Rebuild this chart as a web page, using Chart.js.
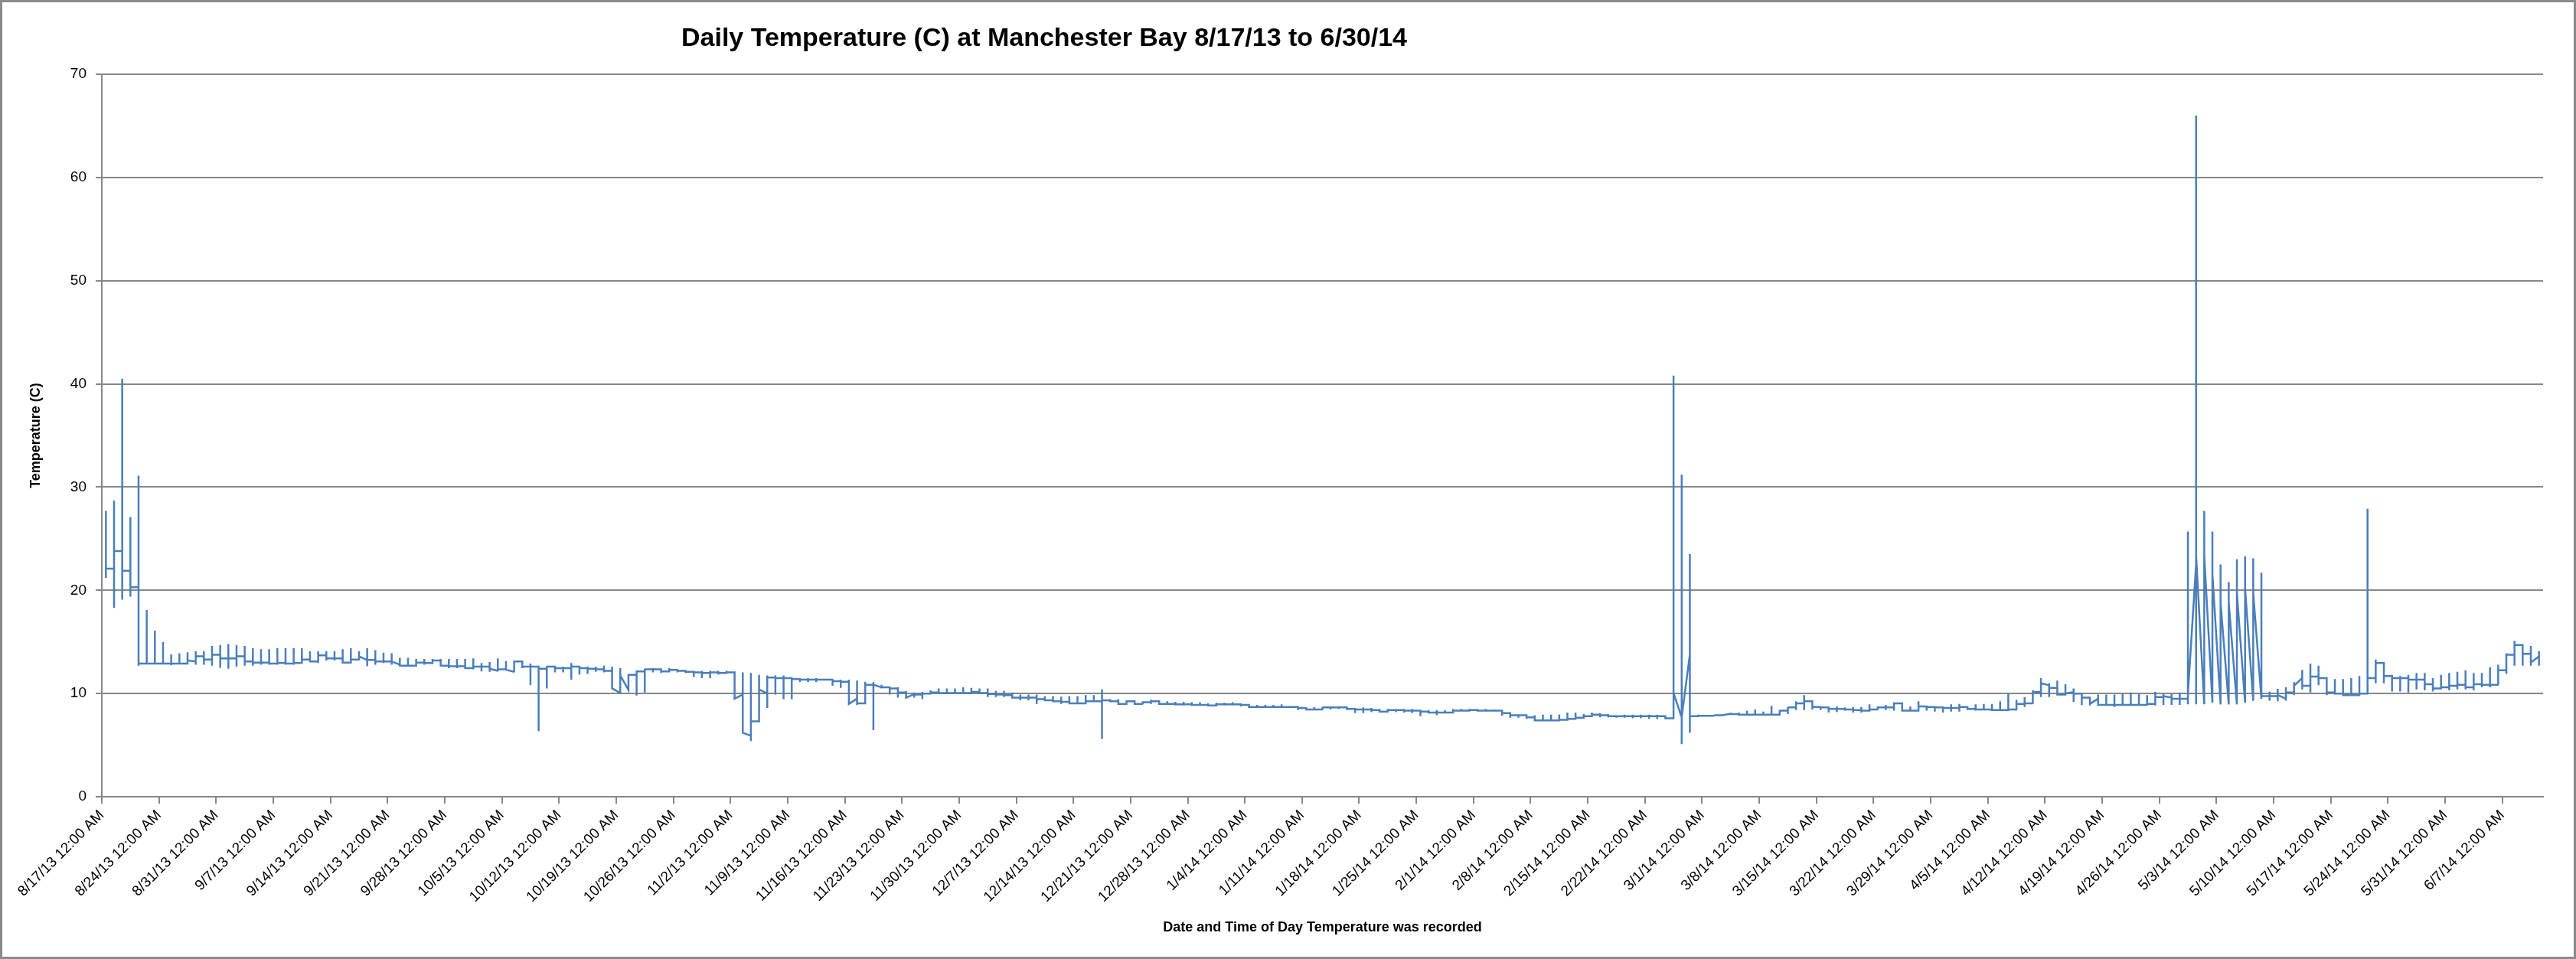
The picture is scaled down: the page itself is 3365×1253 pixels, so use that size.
<!DOCTYPE html>
<html><head><meta charset="utf-8">
<script src="https://cdn.jsdelivr.net/npm/chart.js@4.4.0/dist/chart.umd.min.js"></script>
<style>html,body{margin:0;padding:0;background:#fff;}#wrap{width:3365px;height:1253px;}</style>
</head><body><div id="wrap"><canvas id="c" width="3365" height="1253"></canvas></div>
<script>
const chartTitle = 'Daily Temperature (C) at Manchester Bay 8/17/13 to 6/30/14';
const yAxisTitle = 'Temperature (C)';
const xAxisTitle = 'Date and Time of Day Temperature was recorded';
const weekLabels = ['8/17/13 12:00 AM','8/24/13 12:00 AM','8/31/13 12:00 AM','9/7/13 12:00 AM','9/14/13 12:00 AM','9/21/13 12:00 AM','9/28/13 12:00 AM','10/5/13 12:00 AM','10/12/13 12:00 AM','10/19/13 12:00 AM','10/26/13 12:00 AM','11/2/13 12:00 AM','11/9/13 12:00 AM','11/16/13 12:00 AM','11/23/13 12:00 AM','11/30/13 12:00 AM','12/7/13 12:00 AM','12/14/13 12:00 AM','12/21/13 12:00 AM','12/28/13 12:00 AM','1/4/14 12:00 AM','1/11/14 12:00 AM','1/18/14 12:00 AM','1/25/14 12:00 AM','2/1/14 12:00 AM','2/8/14 12:00 AM','2/15/14 12:00 AM','2/22/14 12:00 AM','3/1/14 12:00 AM','3/8/14 12:00 AM','3/15/14 12:00 AM','3/22/14 12:00 AM','3/29/14 12:00 AM','4/5/14 12:00 AM','4/12/14 12:00 AM','4/19/14 12:00 AM','4/26/14 12:00 AM','5/3/14 12:00 AM','5/10/14 12:00 AM','5/17/14 12:00 AM','5/24/14 12:00 AM','5/31/14 12:00 AM','6/7/14 12:00 AM'];
const daysPerLabel = 7;
const totalDays = 299;
const yMin = 0, yMax = 70, yStep = 10;

// Per day (from 8/17/13): highest, lowest and last reading of the day
const dayHigh = [
27.7,28.7,40.5,27.1,31.1,18.1,16.1,15.0,13.8,13.9,
14.0,14.1,14.1,14.6,14.7,14.8,14.7,14.6,14.4,14.3,
14.3,14.4,14.4,14.4,14.4,14.1,14.1,14.1,14.1,14.3,
14.4,14.1,14.4,14.2,13.95,13.9,13.45,13.45,13.35,13.35,
13.35,13.35,13.35,13.35,13.35,13.4,12.95,13.05,13.4,13.15,
13.1,13.05,12.9,12.7,12.65,12.65,12.6,12.95,12.65,12.6,
12.6,12.7,12.6,12.45,11.8,12.15,12.4,12.45,12.35,12.45,
12.35,12.2,12.2,12.2,12.2,12.2,12.2,12.05,12.05,12.0,
11.8,11.75,11.75,11.75,11.5,11.5,11.5,11.5,11.4,11.35,
11.35,11.35,11.25,11.15,11.1,10.85,10.6,10.6,10.25,10.1,
10.15,10.3,10.5,10.5,10.5,10.6,10.55,10.5,10.5,10.25,
10.25,10.1,9.9,9.9,9.9,9.75,9.75,9.7,9.75,9.75,
9.85,9.85,10.4,9.45,9.45,9.35,9.25,9.25,9.4,9.25,
9.25,9.2,9.2,9.15,9.15,9.05,9.1,9.1,9.15,9.0,
8.95,8.9,8.9,8.9,8.95,8.75,8.7,8.7,8.7,8.7,
8.75,8.75,8.65,8.6,8.65,8.6,8.5,8.5,8.5,8.5,
8.5,8.4,8.4,8.4,8.4,8.5,8.5,8.5,8.5,8.5,
8.45,8.35,8.1,7.95,7.95,7.9,7.95,7.95,7.95,8.15,
8.15,8.0,8.15,8.1,8.0,7.9,7.95,7.95,7.95,7.95,
7.95,7.9,40.8,31.2,23.5,7.95,7.9,7.95,7.95,8.1,
8.15,8.35,8.45,8.25,8.8,8.4,8.7,9.25,9.85,9.25,
8.75,8.7,8.75,8.65,8.7,8.7,8.95,8.75,8.9,9.15,
9.05,8.75,9.25,8.75,8.75,8.75,8.95,9.0,8.75,8.95,
9.0,9.0,9.25,10.0,9.4,9.65,10.3,11.5,11.0,11.25,
10.9,10.5,10.05,9.4,9.9,9.9,9.9,9.95,10.1,9.95,
9.85,10.15,9.95,10.0,10.1,25.7,66.0,27.7,25.7,22.5,
20.8,23.0,23.3,23.1,21.7,10.2,10.45,10.6,11.1,12.3,
12.9,12.7,11.5,11.4,11.4,11.5,11.7,27.9,13.3,12.95,
11.8,11.7,11.8,12.0,12.0,11.5,11.8,12.0,12.1,12.25,
12.0,12.0,12.55,12.8,13.9,15.1,14.75,14.6,14.1];
const dayLow = [
21.2,18.3,19.1,19.4,12.7,12.9,12.9,12.9,12.75,12.9,
12.9,12.8,12.8,12.7,12.5,12.4,12.6,12.7,12.7,12.8,
12.8,12.8,12.8,12.8,12.9,13.1,12.95,13.2,13.2,12.95,
12.9,13.2,12.65,12.8,12.95,12.8,12.65,12.65,12.8,12.8,
12.85,12.6,12.45,12.45,12.4,12.35,12.15,12.1,12.15,12.3,
12.05,12.45,10.8,6.35,10.5,12.05,12.05,11.35,11.85,11.9,
12.1,12.05,10.5,10.05,10.35,9.8,10.1,12.05,12.0,12.05,
12.05,12.0,11.6,11.5,11.5,11.85,11.9,9.5,6.2,5.4,
7.3,8.6,9.9,9.45,9.45,11.1,11.1,11.1,11.25,10.75,
10.55,9.0,8.9,9.05,6.45,10.5,9.9,9.6,9.6,9.6,
9.45,10.0,10.0,10.0,10.0,10.0,10.05,10.0,9.65,9.65,
9.65,9.6,9.35,9.35,9.0,9.25,9.15,9.0,9.0,9.0,
9.05,9.15,5.6,9.2,8.95,9.0,8.95,8.95,9.0,9.0,
8.9,8.85,8.85,8.85,8.85,8.75,8.75,8.85,8.85,8.75,
8.65,8.6,8.6,8.6,8.65,8.6,8.4,8.4,8.4,8.4,
8.45,8.5,8.4,8.1,8.1,8.2,8.15,8.15,8.2,8.15,
8.1,7.8,8.1,7.9,8.1,8.15,8.25,8.25,8.25,8.25,
8.25,7.85,7.65,7.65,7.55,7.3,7.3,7.4,7.3,7.45,
7.65,7.65,7.8,7.7,7.7,7.65,7.65,7.6,7.6,7.55,
7.55,7.55,7.6,5.1,6.2,7.8,7.8,7.8,7.85,7.95,
7.95,7.95,7.95,7.95,7.95,7.95,8.0,8.4,8.4,8.45,
8.4,8.15,8.2,8.35,8.15,8.15,8.35,8.4,8.4,8.35,
8.25,8.25,8.35,8.35,8.25,8.15,8.25,8.25,8.4,8.35,
8.4,8.35,8.35,8.4,8.45,8.7,9.0,9.65,9.65,9.9,
9.9,9.2,8.9,8.85,8.85,8.85,8.7,8.85,8.9,8.85,
8.85,8.85,8.9,8.9,8.9,8.95,8.95,8.95,9.1,8.95,
8.95,8.95,9.1,9.3,9.5,9.3,9.25,9.3,9.85,10.4,
10.1,10.8,9.85,9.9,9.9,9.85,9.85,10.0,11.0,11.0,
10.2,10.2,10.1,10.4,10.3,10.2,10.4,10.3,10.4,10.4,
10.3,10.6,10.6,10.8,11.9,12.7,12.7,12.7,12.7];
const dayClose = [
22.1,23.8,21.9,20.3,12.9,12.9,12.9,12.9,12.9,12.9,
13.2,13.6,13.3,13.75,13.4,13.4,13.6,13.1,13.0,13.0,
12.9,12.95,12.9,12.95,13.3,13.1,13.7,13.4,13.4,13.0,
13.3,13.6,13.25,13.1,13.1,13.1,12.7,12.7,13.0,12.95,
13.2,12.7,12.65,12.65,12.45,12.6,12.6,12.4,12.35,12.3,
13.1,12.6,12.6,12.4,12.6,12.45,12.45,12.6,12.45,12.4,
12.35,12.2,10.5,11.75,11.8,12.15,12.35,12.35,12.15,12.3,
12.2,12.1,12.05,12.0,12.05,12.0,12.05,9.5,6.2,7.3,
10.4,11.55,11.5,11.5,11.4,11.35,11.35,11.35,11.35,11.2,
11.15,9.0,9.05,10.85,10.85,10.6,10.5,10.1,9.6,9.9,
10.0,10.1,10.05,10.05,10.05,10.05,10.15,10.05,9.95,9.9,
9.85,9.6,9.6,9.6,9.45,9.35,9.25,9.2,9.05,9.05,
9.25,9.25,9.35,9.25,9.0,9.25,9.0,9.15,9.25,9.0,
9.0,8.95,8.95,8.9,8.9,8.85,8.95,8.95,8.95,8.9,
8.7,8.7,8.7,8.7,8.7,8.7,8.6,8.45,8.45,8.65,
8.65,8.65,8.5,8.45,8.45,8.4,8.25,8.4,8.4,8.35,
8.35,8.25,8.15,8.15,8.15,8.35,8.35,8.4,8.35,8.35,
8.35,8.1,7.9,7.9,7.7,7.4,7.4,7.4,7.45,7.55,
7.65,7.8,7.95,7.9,7.8,7.8,7.8,7.8,7.8,7.8,
7.8,7.6,10.05,7.7,7.8,7.85,7.85,7.9,7.9,8.0,
7.95,7.95,7.95,7.95,7.95,8.35,8.65,9.05,9.25,8.7,
8.65,8.5,8.5,8.45,8.4,8.35,8.45,8.65,8.65,9.05,
8.35,8.35,8.75,8.7,8.65,8.6,8.6,8.7,8.5,8.45,
8.45,8.4,8.4,8.45,9.0,9.05,10.15,11.0,10.55,9.9,
10.0,10.0,9.6,9.0,8.9,8.9,8.9,8.9,8.9,8.9,
9.0,9.65,9.75,9.5,9.5,10.0,23.4,23.4,21.6,18.8,
18.8,19.75,20.2,19.75,9.75,9.75,9.85,10.1,10.75,10.75,
11.65,11.5,10.1,10.0,9.85,9.85,10.0,11.5,12.95,11.7,
11.5,11.5,11.35,11.35,10.9,10.5,10.6,10.75,10.85,10.6,
10.9,10.85,10.85,12.25,13.75,14.7,13.85,13.0,13.6];
// First reading of a day when it differs from the previous day's last reading
const dayOpenJumps = {11:13.1,32:13.25,36:12.8,48:12.2,50:12.1,63:10.05,64:10.35,78:9.9,79:5.9,81:10.0,92:9.5,95:10.6,99:9.95,193:7.7,194:13.8,199:8.05,238:10.8,241:10.15,244:9.5,253:9.6,256:22.5,257:8.95,258:9.1,259:8.95,260:8.95,261:8.95,262:9.1,263:9.3,264:9.5,267:9.5,269:11.5,298:13.6};

const points = [];
for (let d = 0; d < dayClose.length; d++) {
  const x = d + 0.5;
  const open = (d in dayOpenJumps) ? dayOpenJumps[d] : (d > 0 ? dayClose[d - 1] : dayLow[d]);
  points.push({x, y: open}, {x, y: dayHigh[d]}, {x, y: dayLow[d]}, {x, y: dayClose[d]});
}

const FONT = '"Liberation Sans", Arial, sans-serif';
Chart.defaults.font.family = FONT;
Chart.defaults.color = '#000';

const framePlugin = {
  id: 'frame',
  beforeDraw(chart) {
    const c = chart.ctx;
    c.save();
    c.fillStyle = '#fff';
    c.fillRect(0, 0, chart.width, chart.height);
    c.strokeStyle = '#8a8a8a';
    c.lineWidth = 3;
    c.strokeRect(1.5, 1.5, chart.width - 3, chart.height - 3);
    c.restore();
  },
  afterDraw(chart) {
    const c = chart.ctx;
    c.save();
    c.fillStyle = '#000';
    c.font = 'bold 34px ' + FONT;
    c.textBaseline = 'alphabetic';
    c.textAlign = 'left';
    c.fillText(chartTitle, 890, 60);
    c.restore();
  }
};

new Chart(document.getElementById('c'), {
  type: 'line',
  data: { datasets: [{ data: points, borderColor: '#4a7ebb', borderWidth: 2.5, pointRadius: 0, fill: false, tension: 0 }] },
  options: {
    responsive: false, animation: false, events: [],
    layout: { padding: { top: 97, right: 43, left: 0, bottom: 0 } },
    plugins: { legend: { display: false }, title: { display: false }, tooltip: { enabled: false } },
    scales: {
      x: {
        type: 'linear', min: 0, max: totalDays,
        afterBuildTicks: s => { s.ticks = weekLabels.map((_, i) => ({ value: i * daysPerLabel })); },
        ticks: { autoSkip: false, maxRotation: 45, minRotation: 45, padding: 4, color: '#000',
          font: { size: 19 }, callback: v => weekLabels[Math.round(v / daysPerLabel)] },
        grid: { drawOnChartArea: false, drawTicks: true, tickLength: 9, color: '#878787', lineWidth: 2 },
        border: { display: true, color: '#878787', width: 2 },
        title: { display: true, text: xAxisTitle, color: '#000', font: { size: 18, weight: 'bold' }, padding: { top: 0, bottom: 30 } },
        afterFit: s => { s.height = 212; }
      },
      y: {
        min: yMin, max: yMax,
        ticks: { stepSize: yStep, padding: 12, color: '#000', font: { size: 19 } },
        grid: { color: '#878787', lineWidth: 2, drawTicks: true, tickLength: 8 },
        border: { display: true, color: '#878787', width: 2 },
        title: { display: true, text: yAxisTitle, color: '#000', font: { size: 18, weight: 'bold' }, padding: { top: 36, bottom: 0 } },
        afterFit: s => { s.width = 133; }
      }
    }
  },
  plugins: [framePlugin]
});
</script>
</body></html>
